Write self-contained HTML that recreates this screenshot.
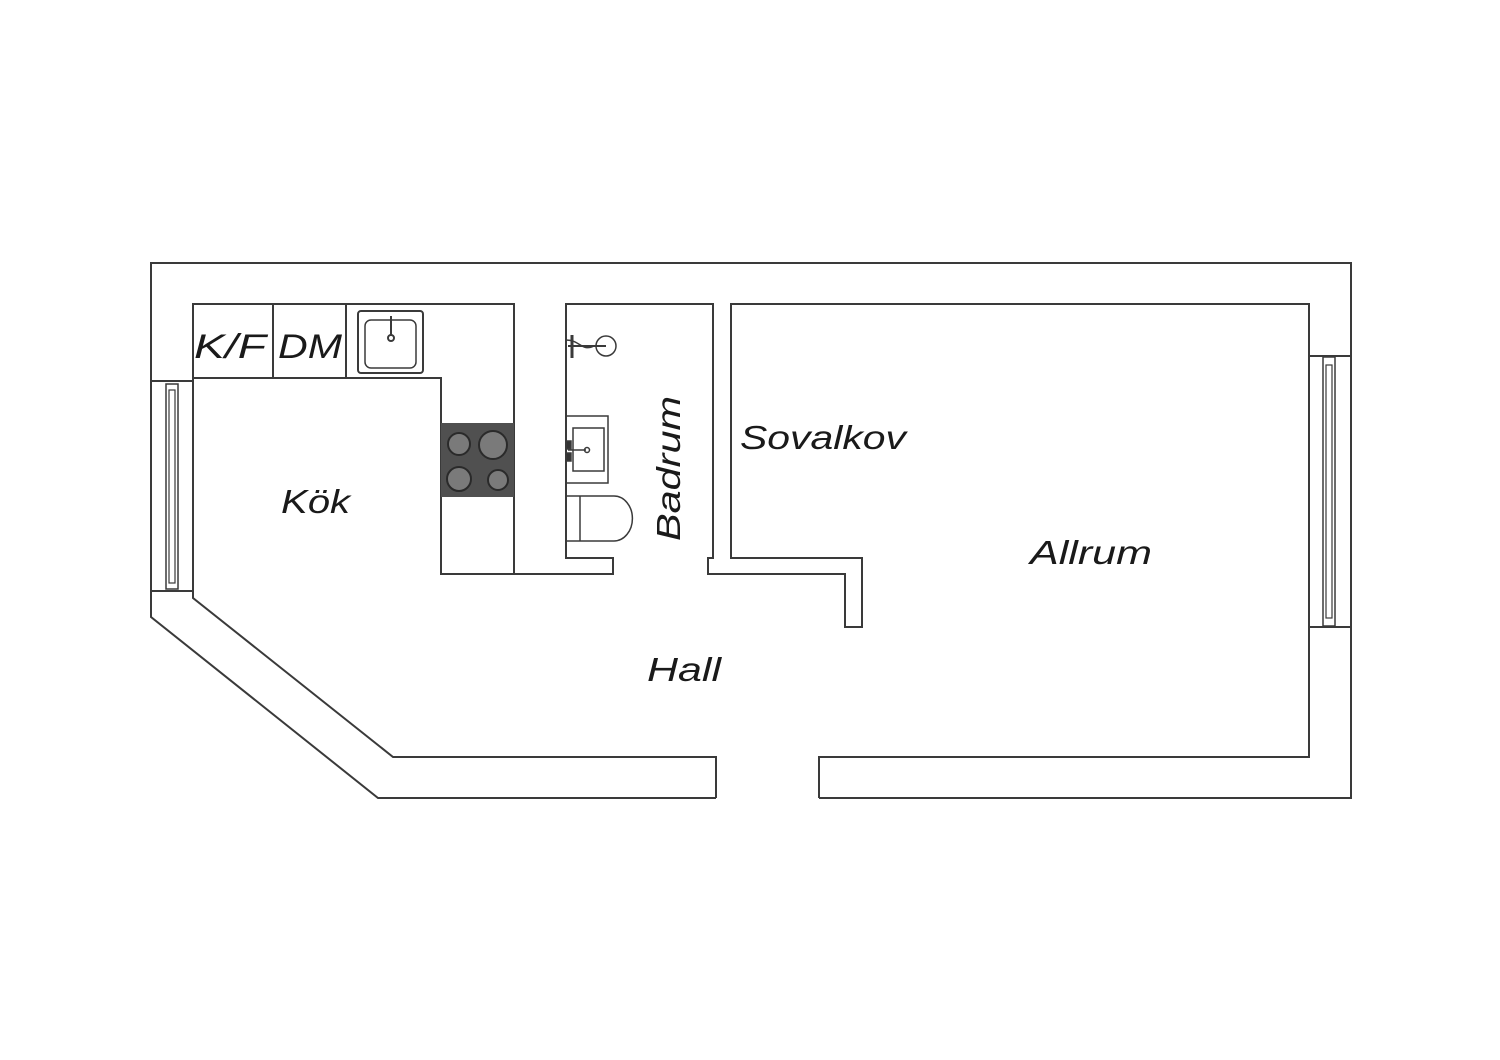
<!DOCTYPE html>
<html><head><meta charset="utf-8"><style>
html,body{margin:0;padding:0;background:#fff;}
svg{display:block}
text{font-family:"Liberation Sans","DejaVu Sans",sans-serif;font-style:italic;fill:#1a1a1a;}
</style></head><body>
<svg width="1500" height="1060" viewBox="0 0 1500 1060" xmlns="http://www.w3.org/2000/svg">
<g fill="none" stroke="#3a3a3a" stroke-width="2">
<polyline points="716,798 378,798 151,617 151,263 1351,263 1351,798 819,798"/>
<polyline points="716,798 716,757 393,757 193,598 193,304 514,304 514,574"/>
<polyline points="193,378 441,378 441,574 613,574 613,558 566,558 566,304 713,304 713,558 708,558 708,574 845,574 845,627 862,627 862,558 731,558 731,304 1309,304 1309,757 819,757 819,798"/>
<line x1="273" y1="304" x2="273" y2="378"/>
<line x1="346" y1="304" x2="346" y2="378"/>
<line x1="151" y1="381" x2="193" y2="381"/>
<line x1="151" y1="591" x2="193" y2="591"/>
<rect x="166" y="384" width="12" height="205" stroke-width="1.5"/>
<rect x="169" y="390" width="6" height="193" stroke-width="1.2"/>
<line x1="1309" y1="356" x2="1351" y2="356"/>
<line x1="1309" y1="627" x2="1351" y2="627"/>
<rect x="1323" y="357" width="12" height="269" stroke-width="1.5"/>
<rect x="1326" y="365" width="6" height="253" stroke-width="1.2"/>
<rect x="358" y="311" width="65" height="62" rx="3" stroke-width="2"/>
<rect x="365" y="320" width="51" height="48" rx="6" stroke-width="1.5"/>
<line x1="391" y1="316" x2="391" y2="336" stroke-width="2"/>
<circle cx="391" cy="338" r="3"/>
</g>
<rect x="441" y="423" width="73" height="74" fill="#505050"/>
<g stroke="#2a2a2a" stroke-width="2" fill="#7a7a7a">
<circle cx="459" cy="444" r="11"/>
<circle cx="493" cy="445" r="14"/>
<circle cx="459" cy="479" r="12"/>
<circle cx="498" cy="480" r="10"/>
</g>
<g fill="none" stroke="#3a3a3a" stroke-width="1.5">
<circle cx="606" cy="346" r="10"/>
<line x1="568" y1="346" x2="606" y2="346" stroke-width="2"/>
<line x1="572" y1="335" x2="572" y2="358" stroke-width="3"/>
<path d="M566,340 C580,340 582,352 594,346"/>
<rect x="566" y="416" width="42" height="67"/>
<rect x="573" y="428" width="31" height="43"/>
<line x1="568" y1="450" x2="586" y2="450"/>
<circle cx="587" cy="450" r="2.5"/>
<rect x="566" y="441" width="5" height="8" fill="#333"/>
<rect x="566" y="453" width="5" height="8" fill="#333"/>
<path d="M566,496 L614,496 A18,22 0 0 1 614,541 L566,541"/>
<line x1="580" y1="496" x2="580" y2="541"/>
</g>
<g font-size="33">
<text x="194" y="358" font-size="34" textLength="72" lengthAdjust="spacingAndGlyphs">K/F</text>
<text x="278" y="358" font-size="34" textLength="64" lengthAdjust="spacingAndGlyphs">DM</text>
<text x="281" y="513" textLength="69" lengthAdjust="spacingAndGlyphs">Kök</text>
<text x="740" y="449" textLength="166" lengthAdjust="spacingAndGlyphs">Sovalkov</text>
<text x="1030" y="564" textLength="122" lengthAdjust="spacingAndGlyphs">Allrum</text>
<text x="647" y="681" textLength="74" lengthAdjust="spacingAndGlyphs">Hall</text>
<text transform="translate(680,541) rotate(-90)" textLength="145" lengthAdjust="spacingAndGlyphs">Badrum</text>
</g>
</svg>
</body></html>
